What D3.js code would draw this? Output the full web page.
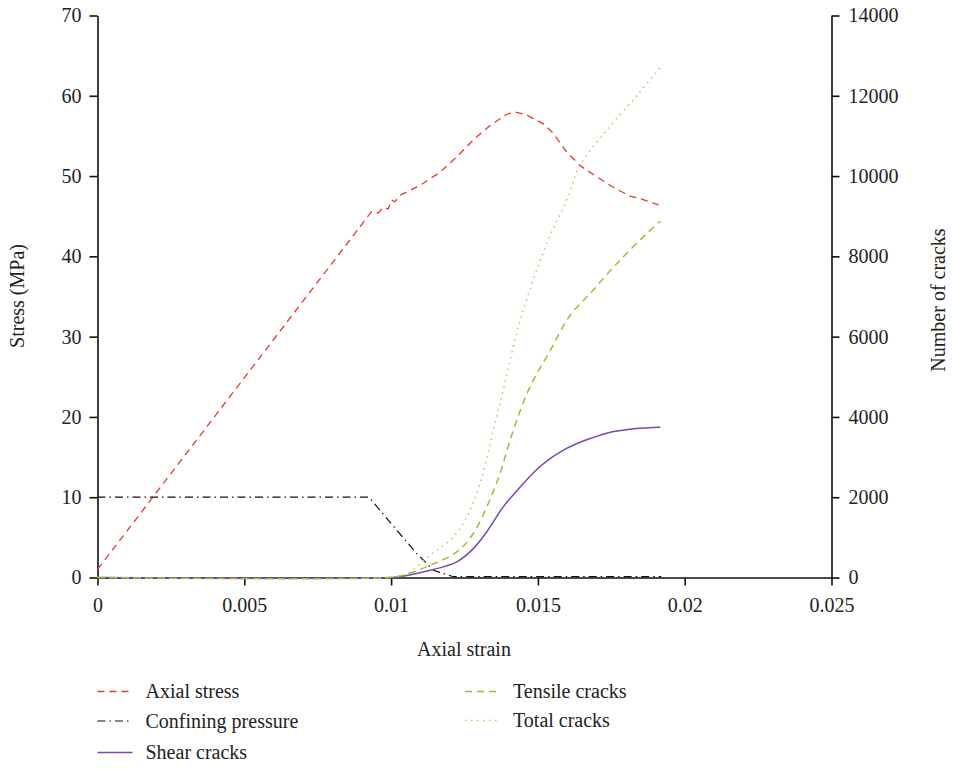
<!DOCTYPE html>
<html>
<head>
<meta charset="utf-8">
<script src="https://cdn.jsdelivr.net/npm/d3@7"></script>
<style>
  body { margin: 0; background: #fff; }
  svg { font-family: "Liberation Serif", "DejaVu Serif", serif; }
  .axis text { font-size: 20px; fill: #222; font-family: "Liberation Serif", "DejaVu Serif", serif; }
  .axis path, .axis line { stroke: #111; stroke-width: 1.6; }
</style>
</head>
<body>
<svg id="chart" width="953" height="769"></svg>
<script>
// axial stress (MPa) vs axial strain
const stressStrain = [0, 0.00934, 0.00956, 0.00973, 0.0099, 0.01002, 0.01013, 0.0103, 0.01064, 0.0111, 0.01167, 0.01224, 0.0128, 0.01337, 0.01394, 0.01422, 0.01462, 0.01519, 0.01553, 0.01598, 0.01644, 0.01701, 0.01757, 0.01814, 0.01848, 0.01911]
const axialStress = [1.0, 45.6, 45.4, 46.1, 45.9, 47.0, 46.8, 47.6, 48.2, 49.1, 50.5, 52.4, 54.5, 56.3, 57.7, 58.0, 57.6, 56.5, 55.3, 53.0, 51.3, 49.9, 48.6, 47.5, 47.2, 46.4]

// confining pressure (MPa)
const confStrain = [0, 0.00922, 0.00934, 0.01019, 0.01087, 0.01144, 0.01212, 0.0125, 0.0192]
const confPressure = [10, 10, 9.6, 5.9, 3.0, 0.9, 0.1, 0.1, 0.1]

// crack counts
const shearStrain = [0, 0.0100, 0.0103, 0.01133, 0.01224, 0.0128, 0.01326, 0.01382, 0.01439, 0.01496, 0.0153, 0.01587, 0.01633, 0.01678, 0.01747, 0.0178, 0.01837, 0.01917]
const shearCracks = [0, 0, 20, 180, 390, 720, 1140, 1760, 2250, 2690, 2900, 3171, 3338, 3463, 3620, 3660, 3712, 3745]

const tensileStrain = [0, 0.0099, 0.01042, 0.01133, 0.01224, 0.0128, 0.01326, 0.01354, 0.01371, 0.0142, 0.01473, 0.01542, 0.0161, 0.01678, 0.01769, 0.01871, 0.01917]
const tensileCracks = [0, 0, 57, 306, 638, 1096, 1759, 2257, 2591, 3750, 4748, 5655, 6534, 7075, 7823, 8570, 8880]

const totalStrain = [0, 0.0098, 0.01053, 0.01133, 0.01212, 0.01258, 0.01303, 0.01348, 0.01382, 0.01416, 0.0145, 0.01496, 0.01542, 0.01598, 0.01644, 0.01735, 0.01843, 0.01921]
const totalCracks = [0, 0, 100, 555, 1011, 1510, 2350, 3670, 4666, 5745, 6659, 7656, 8528, 9400, 10272, 11144, 12058, 12740]

const xTicks = [0, 0.005, 0.01, 0.015, 0.02, 0.025]
const xTickLabels = ['0', '0.005', '0.01', '0.015', '0.02', '0.025']
const stressTicks = [0, 10, 20, 30, 40, 50, 60, 70]
const crackTicks = [0, 2000, 4000, 6000, 8000, 10000, 12000, 14000]

var svg = d3.select('#chart')

var x = d3.scaleLinear().domain([0, 0.025]).range([97.5, 831.5])
var yL = d3.scaleLinear().domain([0, 70]).range([577.5, 15.5])
var yR = d3.scaleLinear().domain([0, 14000]).range([577.5, 15.5])

function zip(xs, ys) {
	return xs.map((v, i) => [v, ys[i]])
}

var smooth = d3.curveCatmullRom.alpha(0.5)

var series = [
	{name: 'Axial stress', data: zip(stressStrain, axialStress), y: yL, color: '#e8392f', dash: '7,5', width: 1.3, curve: d3.curveLinear},
	{name: 'Confining pressure', data: zip(confStrain, confPressure), y: yL, color: '#111', dash: '8,4,1.5,4', width: 1.2, curve: d3.curveLinear},
	{name: 'Shear cracks', data: zip(shearStrain, shearCracks), y: yR, color: '#7b48b0', dash: null, width: 1.5, curve: smooth},
	{name: 'Tensile cracks', data: zip(tensileStrain, tensileCracks), y: yR, color: '#a3bc35', dash: '7,5', width: 1.5, curve: smooth},
	{name: 'Total cracks', data: zip(totalStrain, totalCracks), y: yR, color: '#b6cb5c', dash: '1.5,4.5', width: 1.5, curve: smooth}
]

// axes
svg.append('g').attr('class', 'axis')
	.attr('transform', 'translate(0,577.5)')
	.call(d3.axisBottom(x).tickValues(xTicks).tickFormat((d, i) => xTickLabels[i]).tickSize(8).tickSizeOuter(0).tickPadding(12))

svg.append('g').attr('class', 'axis')
	.attr('transform', 'translate(97.5,0)')
	.call(d3.axisLeft(yL).tickValues(stressTicks).tickSize(8).tickSizeOuter(0).tickPadding(8))

svg.append('g').attr('class', 'axis')
	.attr('transform', 'translate(831.5,0)')
	.call(d3.axisRight(yR).tickValues(crackTicks).tickFormat(d3.format('d')).tickSize(8).tickSizeOuter(0).tickPadding(9))

// lines
series.forEach(s => {
	var line = d3.line().x(d => x(d[0])).y(d => s.y(d[1])).curve(s.curve)
	svg.append('path')
		.datum(s.data)
		.attr('fill', 'none')
		.attr('stroke', s.color)
		.attr('stroke-width', s.width)
		.attr('stroke-dasharray', s.dash)
		.attr('d', line)
})

// axis titles
svg.append('text').attr('x', 464).attr('y', 656).attr('text-anchor', 'middle')
	.style('font-size', '20px').style('fill', '#222').text('Axial strain')
svg.append('text').attr('transform', 'translate(24,296) rotate(-90)').attr('text-anchor', 'middle')
	.style('font-size', '20px').style('fill', '#222').text('Stress (MPa)')
svg.append('text').attr('transform', 'translate(945,300) rotate(-90)').attr('text-anchor', 'middle')
	.style('font-size', '20px').style('fill', '#222').text('Number of cracks')

// legend
var legendPos = [[97.5, 691.5], [97.5, 721], [97.5, 752.5], [465, 691.5], [465, 720.5]]
series.forEach((s, i) => {
	var g = svg.append('g').attr('transform', `translate(${legendPos[i][0]},${legendPos[i][1]})`)
	g.append('line').attr('x1', 0).attr('x2', 35).attr('y1', 0).attr('y2', 0)
		.attr('stroke', s.color).attr('stroke-width', s.width).attr('stroke-dasharray', s.dash)
	g.append('text').attr('x', 48).attr('y', 0).attr('dy', '0.33em')
		.style('font-size', '20px').style('fill', '#222').text(s.name)
})
</script>
</body>
</html>
